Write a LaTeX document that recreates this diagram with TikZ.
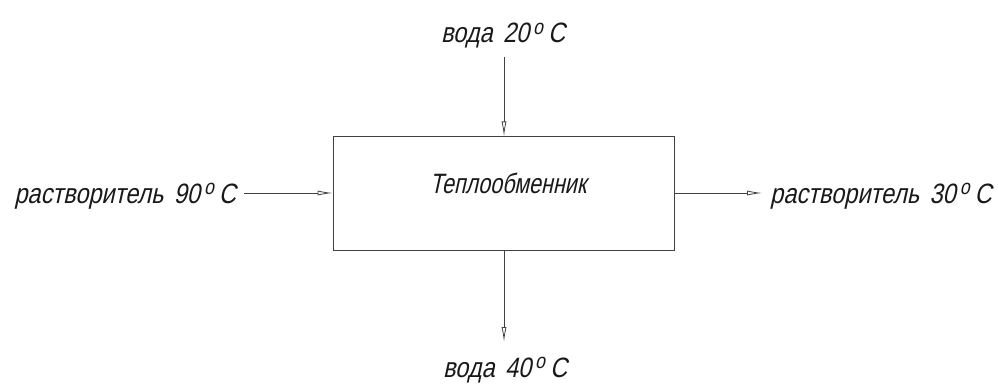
\documentclass[tikz,border=0pt]{standalone}
\usepackage{fontspec}
\setmainfont{Liberation Sans}[FakeSlant=0.22, FakeStretch=0.84, WordSpace=1.6]
\newfontfamily\boxfont{Liberation Sans}[FakeSlant=0.22, FakeStretch=0.77]
\usetikzlibrary{arrows.meta}
\newcommand{\degC}{\hspace{4pt}\raisebox{8.5pt}{\fontsize{21}{21}\selectfont o}\hspace{5pt}C}
\begin{document}
\begin{tikzpicture}[x=1pt,y=-1pt,
  lbl/.style={inner sep=0pt, font=\fontsize{28}{30}\selectfont, text=black!90},
  flow/.style={draw=black!75, line width=0.8pt,
    -{Latex[open, length=15pt, width=5pt]}},
  unit/.style={draw=black!75, line width=1pt, minimum width=341pt, minimum height=113pt, inner sep=0pt}]
\useasboundingbox (0,0) rectangle (998,385);
\node[unit] (hx) at (503.5,193.5) {};
\node[lbl, anchor=base, font=\boxfont\fontsize{28}{30}\selectfont] (hxt) at (508,193) {Теплообменник};
\node[lbl, anchor=base] (w20) at (503,43) {вода 20\degC};
\node[lbl, anchor=base] (w40) at (505,377) {вода 40\degC};
\node[lbl, anchor=base east] (s90) at (236,203) {растворитель 90\degC};
\node[lbl, anchor=base west] (s30) at (770,203) {растворитель 30\degC};
\coordinate (tin) at (504,57);
\coordinate (bout) at (504,342);
\coordinate (lin) at (244,193);
\coordinate (rout) at (762,193);
\draw[flow] (tin) -- (tin |- hx.north);
\draw[flow] (bout |- hx.south) -- (bout);
\draw[flow] (lin) -- (lin -| hx.west);
\draw[flow] (rout -| hx.east) -- (rout);
\end{tikzpicture}
\end{document}
